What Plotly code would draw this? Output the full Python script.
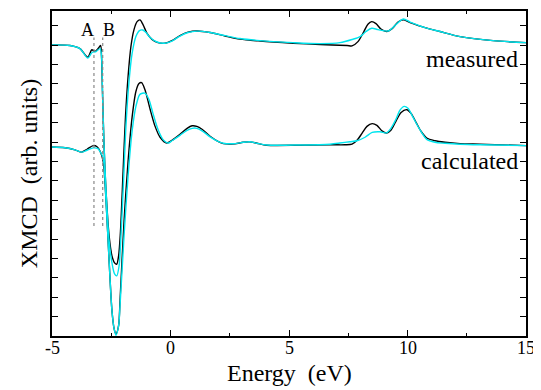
import plotly.graph_objects as go

# Measured spectra (upper pair), energy in eV, XMCD in arb. units (offset)
meas_black_E = [-5.00, -4.24, -3.82, -3.49, -3.32, -3.19, -3.06, -2.95, -2.91, -2.87,
                -2.81, -2.72, -2.59, -2.47, -2.36, -2.27, -2.19, -2.11, -2.00, -1.90,
                -1.79, -1.67, -1.54, -1.41, -1.29, -1.16, -0.99, -0.78, -0.53, -0.23,
                0.06, 0.40, 0.74, 1.12, 1.67, 2.30, 2.93, 3.78, 5.17, 6.31,
                7.45, 7.66, 7.91, 8.16, 8.33, 8.49, 8.67, 8.88, 9.12, 9.35,
                9.60, 9.82, 10.11, 10.74, 11.37, 12.22, 13.61, 15.00]
meas_black_v = [15.01, 14.98, 14.82, 14.38, 14.76, 14.67, 14.82, 14.98, 14.41, 12.61,
                10.04, 7.47, 5.16, 4.13, 3.77, 3.70, 4.13, 5.41, 8.50, 11.29,
                13.38, 14.93, 15.80, 16.21, 16.30, 16.06, 15.60, 15.29, 15.13, 15.10,
                15.23, 15.49, 15.67, 15.73, 15.65, 15.47, 15.31, 15.21, 15.10, 15.03,
                14.98, 14.96, 15.18, 15.70, 16.08, 16.21, 16.11, 15.83, 15.70, 15.85,
                16.19, 16.30, 16.16, 15.90, 15.70, 15.44, 15.23, 15.13]

meas_cyan_E = [-5.00, -4.24, -3.82, -3.49, -3.31, -3.14, -2.97, -2.91, -2.87, -2.81,
               -2.72, -2.59, -2.47, -2.36, -2.27, -2.17, -2.09, -1.98, -1.88, -1.75,
               -1.62, -1.46, -1.31, -1.17, -1.03, -0.86, -0.57, -0.23, 0.06, 0.40,
               0.74, 1.12, 1.67, 2.30, 2.93, 3.78, 5.17, 6.31, 7.15, 7.66,
               8.00, 8.25, 8.49, 8.76, 9.19, 9.47, 9.82, 10.11, 10.74, 11.37,
               12.22, 13.61, 15.00]
meas_cyan_v = [15.01, 14.98, 14.82, 14.33, 14.62, 14.67, 14.82, 14.41, 12.61, 10.04,
               7.47, 4.90, 3.77, 3.20, 3.10, 3.61, 5.16, 7.99, 10.81, 13.13,
               14.57, 15.44, 15.75, 15.78, 15.65, 15.39, 15.16, 15.10, 15.21, 15.47,
               15.65, 15.72, 15.65, 15.49, 15.34, 15.23, 15.13, 15.08, 15.13, 15.29,
               15.44, 15.70, 15.87, 15.80, 15.73, 16.01, 16.35, 16.19, 15.90, 15.70,
               15.44, 15.23, 15.13]

# Calculated spectra (lower pair)
calc_black_E = [-5.00, -4.45, -4.03, -3.75, -3.52, -3.26, -3.10, -2.97, -2.84, -2.72,
                -2.59, -2.47, -2.38, -2.30, -2.19, -2.13, -1.96, -1.79, -1.62, -1.46,
                -1.33, -1.22, -1.08, -0.86, -0.65, -0.44, -0.16, 0.06, 0.40, 0.70,
                0.91, 1.11, 1.33, 1.67, 2.00, 2.23, 2.72, 3.06, 3.35, 3.65,
                4.06, 5.46, 6.73, 7.36, 7.66, 7.87, 8.08, 8.29, 8.51, 8.71,
                8.92, 9.12, 9.30, 9.51, 9.73, 9.97, 10.15, 10.36, 10.57, 10.81,
                11.16, 11.58, 12.22, 13.06, 15.00]
calc_black_v = [9.75, 9.71, 9.60, 9.48, 9.63, 9.82, 9.76, 9.53, 9.01, 6.96,
                3.87, 1.30, 0.38, 0.10, 0.53, 1.82, 5.93, 9.01, 11.29, 12.61,
                13.02, 13.07, 12.71, 11.69, 10.81, 10.25, 9.95, 10.09, 10.40, 10.71,
                10.84, 10.81, 10.66, 10.30, 10.04, 9.92, 9.91, 9.99, 10.01, 9.94,
                9.84, 9.84, 9.86, 9.86, 9.89, 10.09, 10.45, 10.81, 10.95, 10.86,
                10.58, 10.47, 10.61, 11.07, 11.53, 11.67, 11.48, 11.02, 10.56, 10.21,
                10.07, 9.99, 9.92, 9.89, 9.82]

calc_cyan_E = [-5.00, -4.45, -4.03, -3.75, -3.52, -3.26, -3.06, -2.93, -2.84, -2.72,
               -2.59, -2.47, -2.38, -2.30, -2.19, -2.13, -1.96, -1.79, -1.62, -1.46,
               -1.29, -1.08, -0.91, -0.74, -0.53, -0.32, -0.09, 0.06, 0.40, 0.70,
               0.91, 1.11, 1.33, 1.67, 2.00, 2.23, 2.72, 3.06, 3.35, 3.65,
               4.06, 5.46, 6.73, 7.15, 7.57, 7.87, 8.21, 8.51, 8.84, 9.12,
               9.30, 9.51, 9.68, 9.86, 10.02, 10.23, 10.49, 10.81, 11.16, 11.58,
               12.22, 13.06, 15.00]
calc_cyan_v = [9.75, 9.71, 9.60, 9.48, 9.58, 9.70, 9.66, 9.42, 9.17, 6.96,
               3.87, 1.30, 0.38, 0.04, 0.53, 1.56, 5.16, 8.24, 10.56, 11.84,
               12.46, 12.52, 12.20, 11.48, 10.66, 10.14, 9.95, 10.07, 10.35, 10.61,
               10.71, 10.71, 10.58, 10.27, 10.04, 9.94, 9.92, 9.99, 10.02, 9.94,
               9.85, 9.85, 9.89, 9.95, 10.02, 10.07, 10.25, 10.50, 10.53, 10.48,
               10.71, 11.17, 11.64, 11.84, 11.74, 11.29, 10.71, 10.14, 9.99, 9.94,
               9.89, 9.86, 9.82]

# Marker lines A and B
marker_labels = ["A", "B"]
marker_E = [-3.23, -2.86]
marker_span = [5.67, 15.39]

x_ticks = [-5, 0, 5, 10, 15]
x_ticktext = ["-5", "0", "5", "10", "15"]
x_title = "Energy  (eV)"
y_title = "XMCD  (arb. units)"

FONT = "Liberation Serif"
BLACK = "#000000"
CYAN = "#00E5EE"

fig = go.Figure()
for E, v, c in [(meas_black_E, meas_black_v, BLACK), (calc_black_E, calc_black_v, BLACK),
                (meas_cyan_E, meas_cyan_v, CYAN), (calc_cyan_E, calc_cyan_v, CYAN)]:
    fig.add_trace(go.Scatter(x=E, y=v, mode="lines",
                             line=dict(color=c, width=1.4, shape="spline", smoothing=0.8),
                             showlegend=False, hoverinfo="skip"))

for lab, e, anchor, shift in zip(marker_labels, marker_E, ["right", "left"], [2, -2]):
    fig.add_trace(go.Scatter(x=[e, e], y=marker_span, mode="lines",
                             line=dict(color="#888888", width=1.2, dash="dot"),
                             showlegend=False, hoverinfo="skip"))
    fig.add_annotation(x=e, y=marker_span[1], text=lab, showarrow=False,
                       yanchor="bottom", xanchor=anchor, xshift=shift, yshift=-4,
                       font=dict(family=FONT, size=18, color="black"))

fig.add_annotation(x=14.75, y=14.3, text="measured", showarrow=False, xanchor="right",
                   font=dict(family=FONT, size=24, color="black"))
fig.add_annotation(x=14.75, y=9.0, text="calculated", showarrow=False, xanchor="right",
                   font=dict(family=FONT, size=24, color="black"))

# x tick labels and title placed close under the axis, as in the reference
for tv, tt in zip(x_ticks, x_ticktext):
    fig.add_annotation(x=tv, xref="x", y=0, yref="paper", text=tt, showarrow=False,
                       xanchor="center", yanchor="middle", yshift=-12,
                       font=dict(family=FONT, size=18, color="black"))
fig.add_annotation(x=5, xref="x", y=0, yref="paper", text=x_title, showarrow=False,
                   xanchor="center", yanchor="middle", yshift=-37,
                   font=dict(family=FONT, size=24, color="black"))

fig.update_layout(
    width=533, height=382,
    margin=dict(l=44, r=15, t=1, b=54),
    paper_bgcolor="white", plot_bgcolor="white",
    font=dict(family=FONT, color="black"),
    xaxis=dict(range=[-5, 15], tickvals=x_ticks, showticklabels=False,
               ticks="inside", ticklen=6, tickwidth=1.2, tickcolor="black",
               minor=dict(dtick=2.5, ticks="inside", ticklen=3, tickwidth=1.2, tickcolor="black"),
               showline=True, linewidth=1.5, linecolor="black", mirror="ticks",
               showgrid=False, zeroline=False),
    yaxis=dict(range=[0, 16.76], dtick=1, tick0=0,
               ticks="inside", ticklen=6, tickwidth=1.2, tickcolor="black",
               showticklabels=False,
               showline=True, linewidth=1.5, linecolor="black", mirror="ticks",
               showgrid=False, zeroline=False,
               title=dict(text=y_title, font=dict(family=FONT, size=24, color="black"),
                          standoff=6)),
)

fig.write_html("out.html")
